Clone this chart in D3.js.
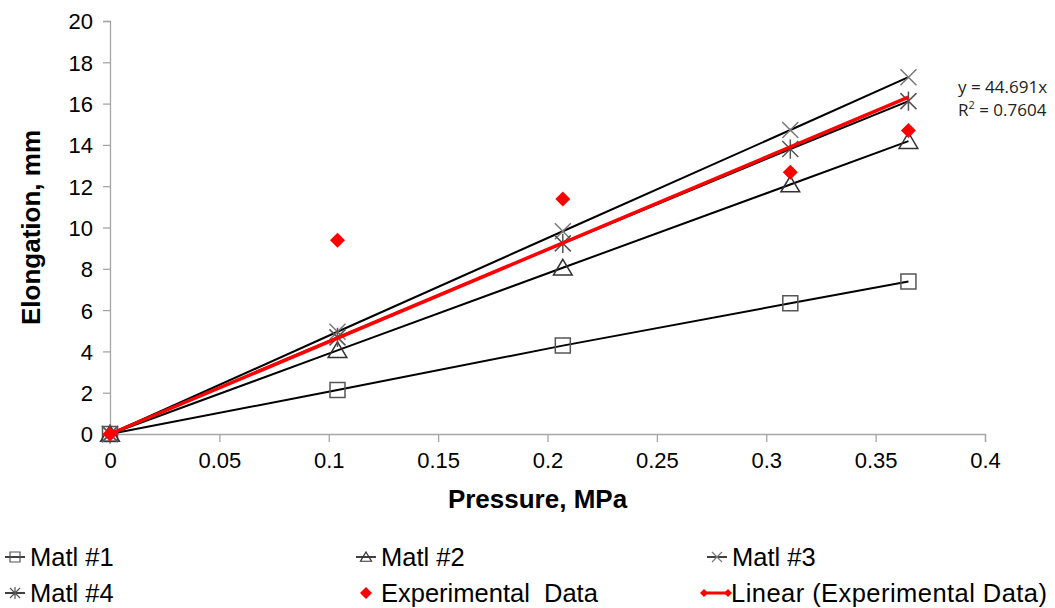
<!DOCTYPE html>
<html>
<head>
<meta charset="utf-8">
<script src="https://cdn.jsdelivr.net/npm/d3@7"></script>
<style>
  body { margin: 0; background: #fff; }
  text { font-family: "Liberation Sans", Arial, sans-serif; }
</style>
</head>
<body>
<div id="wrapper"></div>
<script>
// values
const pressure = [0, 0.104, 0.207, 0.311, 0.365]
const matl1 = [0, 2.13, 4.28, 6.33, 7.38]
const matl2 = [0, 4.05, 8.05, 12.08, 14.18]
const matl3 = [0, 4.95, 9.82, 14.72, 17.28]
const matl4 = [0, 4.68, 9.23, 13.8, 16.12]
const experimental = [0, 9.38, 11.38, 12.68, 14.7]
const trendSlope = 44.691
const trendR2 = "0.7604"
const xTicks = [0, 0.05, 0.1, 0.15, 0.2, 0.25, 0.3, 0.35, 0.4]
const yTicks = [0, 2, 4, 6, 8, 10, 12, 14, 16, 18, 20]
const legendNames = ["Matl #1", "Matl #2", "Matl #3", "Matl #4", "Experimental  Data", "Linear (Experimental Data)"]

function drawChart() {
  let dms = {
    width: 1055,
    height: 608,
    margins: { top: 21, right: 70, bottom: 174, left: 110 }
  }
  dms.boundedWidth = dms.width - dms.margins.left - dms.margins.right
  dms.boundedHeight = dms.height - dms.margins.top - dms.margins.bottom

  const wrapper = d3.select("#wrapper")
    .append("svg")
    .attr("width", dms.width)
    .attr("height", dms.height)

  const bounds = wrapper.append("g")
    .attr("transform", `translate(${dms.margins.left},${dms.margins.top})`)

  const xScale = d3.scaleLinear().domain([0, 0.4]).range([0, dms.boundedWidth])
  const yScale = d3.scaleLinear().domain([0, 20]).range([dms.boundedHeight, 0])

  // axes
  const axisColor = "#a6a6a6"
  const xAxis = bounds.append("g")
    .attr("transform", `translate(0,${dms.boundedHeight})`)
    .call(d3.axisBottom(xScale).tickValues(xTicks).tickSize(8).tickPadding(10).tickFormat(d => d3.format("")(d)))
  const yAxis = bounds.append("g")
    .call(d3.axisLeft(yScale).tickValues(yTicks).tickSize(7).tickPadding(10))
  ;[xAxis, yAxis].forEach(ax => {
    ax.select(".domain").attr("stroke", axisColor).attr("stroke-width", 1.3)
    ax.selectAll(".tick line").attr("stroke", axisColor).attr("stroke-width", 1.3)
    ax.selectAll(".tick text")
      .attr("fill", "#000")
      .style("font-size", "22px")
      .style("font-family", "'Liberation Sans', Arial, sans-serif")
  })
  yAxis.selectAll(".tick text").attr("dy", "0.36em")

  wrapper.append("text")
    .attr("x", dms.margins.left + xScale(0.2) - 10)
    .attr("y", 508)
    .attr("text-anchor", "middle")
    .style("font-size", "26px")
    .style("font-weight", "bold")
    .text("Pressure, MPa")

  wrapper.append("text")
    .attr("transform", `translate(40,${dms.margins.top + yScale(10)}) rotate(-90)`)
    .attr("text-anchor", "middle")
    .style("font-size", "26px")
    .style("font-weight", "bold")
    .text("Elongation, mm")

  // marker shapes
  const markerGrey = "#555"
  const squarePath = s => `M${-s},${-s}H${s}V${s}H${-s}Z`
  const trianglePath = s => `M0,${-s}L${s * 1.1},${s * 0.85}H${-s * 1.1}Z`
  const xPath = s => `M${-s},${-s}L${s},${s}M${-s},${s}L${s},${-s}`
  const starPath = s => `M${-s},${-s}L${s},${s}M${-s},${s}L${s},${-s}M0,${-s * 1.2}V${s * 1.2}`
  const diamondPath = s => `M0,${-s}L${s},0L0,${s}L${-s},0Z`

  const series = [
    { values: matl1, path: squarePath, size: 7.5, fill: "none", stroke: markerGrey },
    { values: matl2, path: trianglePath, size: 8.5, fill: "none", stroke: "#333" },
    { values: matl3, path: xPath, size: 8, fill: "none", stroke: "#777" },
    { values: matl4, path: starPath, size: 8, fill: "none", stroke: "#555" }
  ]

  const lineGenerator = d3.line()
    .x(d => xScale(d[0]))
    .y(d => yScale(d[1]))

  series.forEach(s => {
    const pts = pressure.map((p, i) => [p, s.values[i]])
    bounds.append("path")
      .attr("d", lineGenerator(pts))
      .attr("fill", "none")
      .attr("stroke", "#000")
      .attr("stroke-width", 2)
  })
  series.forEach(s => {
    bounds.append("g").selectAll("path")
      .data(pressure.map((p, i) => [p, s.values[i]]))
      .join("path")
      .attr("transform", d => `translate(${xScale(d[0])},${yScale(d[1])})`)
      .attr("d", s.path(s.size))
      .attr("fill", s.fill)
      .attr("stroke", s.stroke)
      .attr("stroke-width", 1.5)
  })

  // experimental points
  bounds.append("g").selectAll("path")
    .data(pressure.map((p, i) => [p, experimental[i]]))
    .join("path")
    .attr("transform", d => `translate(${xScale(d[0])},${yScale(d[1])})`)
    .attr("d", diamondPath(7.5))
    .attr("fill", "#ff0000")

  // linear trendline through origin
  const xMax = d3.max(pressure)
  bounds.append("path")
    .attr("d", lineGenerator([[0, 0], [xMax, trendSlope * xMax]]))
    .attr("fill", "none")
    .attr("stroke", "#ff0000")
    .attr("stroke-width", 3.5)

  // equation label
  const eq = wrapper.append("text")
    .attr("x", 958)
    .attr("y", 93)
    .style("font-family", "'Open Sans', sans-serif")
    .style("font-size", "17px")
    .attr("fill", "#222")
  eq.append("tspan").attr("x", 958).text(`y = ${trendSlope}x`)
  const r2 = eq.append("tspan").attr("x", 958).attr("dy", 23).text("R")
  r2.append("tspan").attr("dy", -7).style("font-size", "11px").text("2")
  r2.append("tspan").attr("dy", 7).text(` = ${trendR2}`)

  // legend
  const legendPos = [
    [15, 566], [366, 566], [717, 566],
    [15, 602], [366, 602], [717, 602]
  ]
  const legend = wrapper.append("g")
  legendNames.forEach((name, i) => {
    const [lx, ly] = legendPos[i]
    const g = legend.append("g").attr("transform", `translate(${lx},${ly - 9})`)
    if (i < 4) {
      g.append("line").attr("x1", -10).attr("x2", 10).attr("stroke", "#000").attr("stroke-width", 1.5)
      g.append("path").attr("d", series[i].path(5)).attr("fill", "none")
        .attr("stroke", series[i].stroke).attr("stroke-width", 1.2)
    } else if (i === 4) {
      g.append("path").attr("d", diamondPath(6)).attr("fill", "#ff0000")
    } else {
      g.append("line").attr("x1", -14).attr("x2", 12).attr("stroke", "#ff0000").attr("stroke-width", 3)
      g.append("path").attr("transform", "translate(-13,0)").attr("d", diamondPath(4)).attr("fill", "#ff0000")
      g.append("path").attr("transform", "translate(11,0)").attr("d", diamondPath(4)).attr("fill", "#ff0000")
    }
    legend.append("text")
      .attr("x", lx + (i === 5 ? 14 : 15))
      .attr("y", ly)
      .style("font-size", "25.5px")
      .attr("textLength", i === 5 ? 316 : null)
      .text(name)
      .style("white-space", "pre")
  })
}

drawChart()
</script>
</body>
</html>
